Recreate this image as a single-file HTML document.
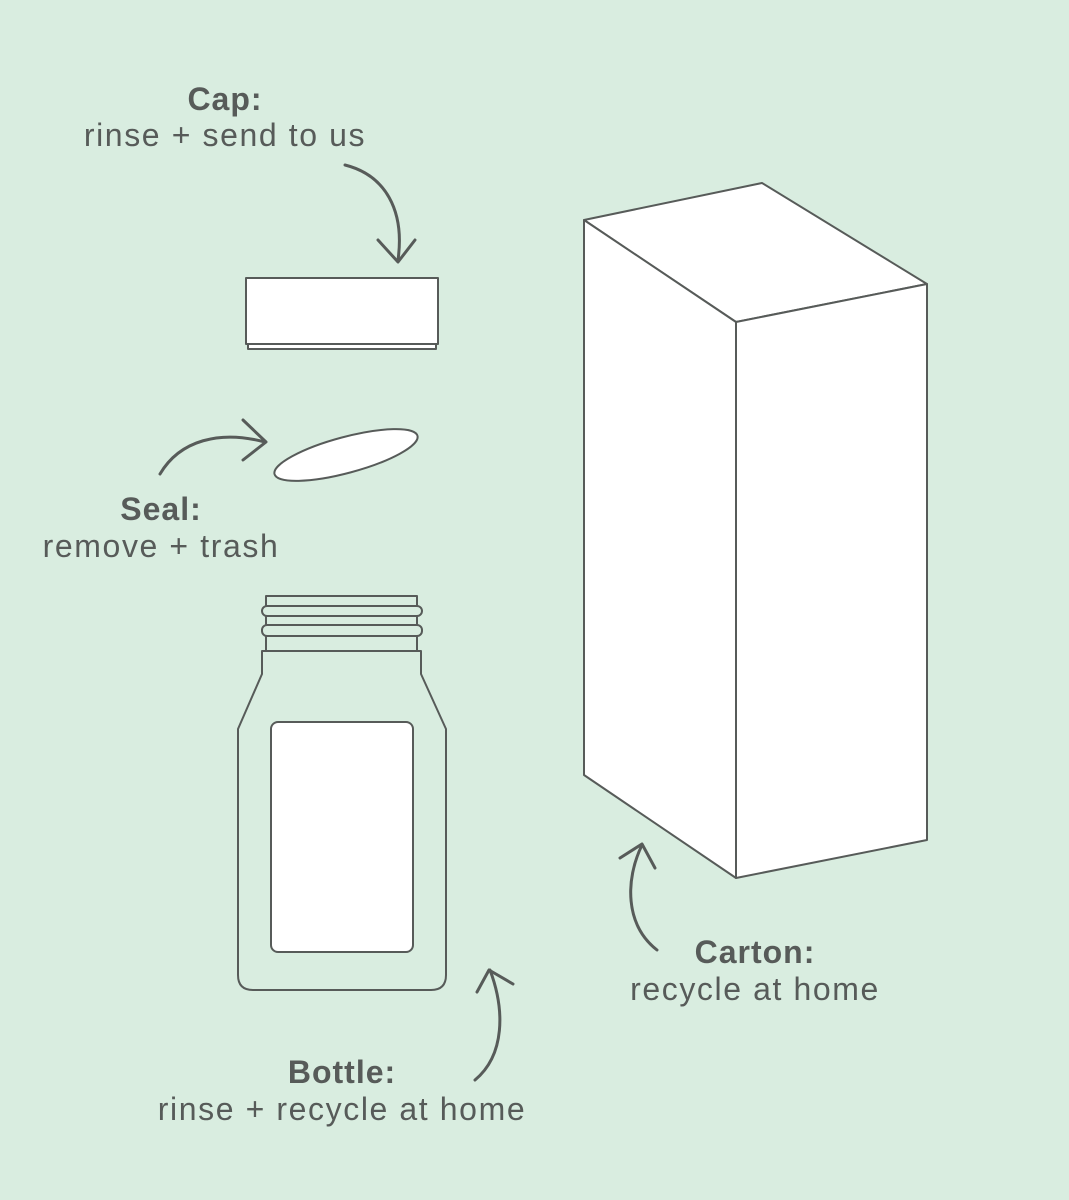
<!DOCTYPE html>
<html><head><meta charset="utf-8"><style>
html,body{margin:0;padding:0;background:#d9ede0;}
svg{display:block}
text{font-family:"Liberation Sans",sans-serif;fill:#575b59;font-size:32px;letter-spacing:1.6px;text-anchor:middle}
.b{font-weight:bold;letter-spacing:1px}
</style></head><body>
<svg width="1069" height="1200" viewBox="0 0 1069 1200">
<rect width="1069" height="1200" fill="#d9ede0"/>
<g stroke="#575b59" stroke-width="2" fill="none" stroke-linejoin="round" stroke-linecap="round">
<rect x="246" y="278" width="192" height="66" fill="#fff"/>
<rect x="248" y="344" width="188" height="5" fill="#fff"/>
<ellipse cx="346" cy="455" rx="74" ry="18" transform="rotate(-15 346 455)" fill="#fff"/>
<rect x="266" y="596" width="151" height="55"/>
<rect x="262" y="606" width="160" height="10" rx="5" fill="#d9ede0"/>
<rect x="262" y="625" width="160" height="11" rx="5" fill="#d9ede0"/>
<path d="M262 651 H421 V674 L446 729 V975 Q446 990 431 990 H253 Q238 990 238 975 V729 L262 674 Z"/>
<rect x="271" y="722" width="142" height="230" rx="7" fill="#fff"/>
<path d="M584 220 L762 183 L927 284 L736 322 Z" fill="#fff"/>
<path d="M584 220 L736 322 L736 878 L584 775 Z" fill="#fff"/>
<path d="M736 322 L927 284 L927 840 L736 878 Z" fill="#fff"/>
<g stroke-width="3">
<path d="M345 165 C385 175 405 210 398 260"/>
<path d="M378 240 L398 262 L415 240"/>
<path d="M160 474 C180 440 220 430 265 442"/>
<path d="M243 420 L266 442 L243 460"/>
<path d="M475 1080 C505 1055 505 1010 490 970"/>
<path d="M477 992 L489 970 L513 984"/>
<path d="M657 950 C625 925 625 880 642 845"/>
<path d="M620 858 L642 844 L655 868"/>
</g>
</g>
<text x="225" y="110" class="b">Cap:</text>
<text x="225" y="146">rinse + send to us</text>
<text x="161" y="520" class="b">Seal:</text>
<text x="161" y="557">remove + trash</text>
<text x="342" y="1083" class="b">Bottle:</text>
<text x="342" y="1120">rinse + recycle at home</text>
<text x="755" y="963" class="b">Carton:</text>
<text x="755" y="1000">recycle at home</text>
</svg>
</body></html>
